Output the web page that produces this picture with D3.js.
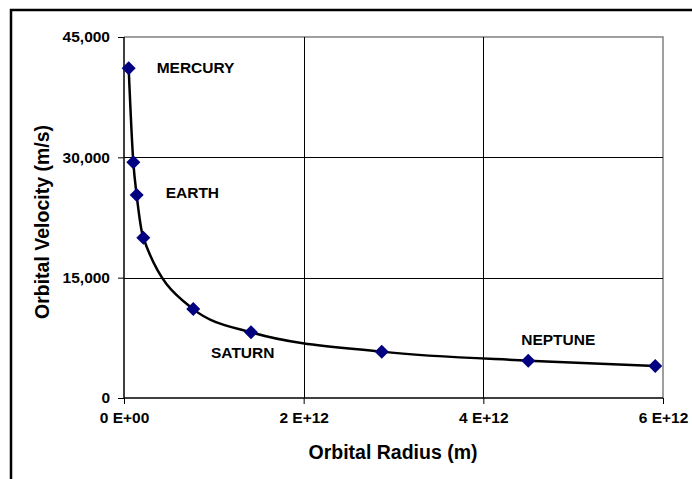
<!DOCTYPE html>
<html>
<head>
<meta charset="utf-8">
<script src="https://cdn.jsdelivr.net/npm/d3@7"></script>
<style>
body { margin: 0; background: #fff; }
text { font-family: "Liberation Sans", Arial, sans-serif; font-weight: bold; fill: #000; }
</style>
</head>
<body>
<script>
// orbital radius (m) and velocity (m/s)
var planets = ["Mercury", "Venus", "Earth", "Mars", "Jupiter", "Saturn", "Uranus", "Neptune", "Pluto"];
var radius = [5.2e10, 1.035e11, 1.41e11, 2.15e11, 7.71e11, 1.414e12, 2.869e12, 4.50e12, 5.914e12];
var velocity = [41100, 29400, 25300, 19980, 11080, 8190, 5780, 4650, 3990];

var labelNames = ["MERCURY", "EARTH", "SATURN", "NEPTUNE"];
var xTicks = [0, 2e12, 4e12, 6e12];
var xTickLabels = ["0 E+00", "2 E+12", "4 E+12", "6 E+12"];
var yTicks = [0, 15000, 30000, 45000];

var W = 692, H = 479;
var plotL = 124, plotR = 663, plotT = 37, plotB = 398;

var svg = d3.select("body").append("svg")
    .attr("width", W).attr("height", H);

// outer chart border (only top and left are visible in the frame)
svg.append("path")
    .attr("d", "M11," + H + "V10H" + W)
    .attr("fill", "none").attr("stroke", "#000").attr("stroke-width", 2.5);

var x = d3.scaleLinear().domain([0, 6e12]).range([plotL, plotR]);
var y = d3.scaleLinear().domain([0, 45000]).range([plotB, plotT]);

// plot frame, grey on top/right
svg.append("path")
    .attr("d", "M" + plotL + "," + plotT + "H" + plotR + "V" + plotB)
    .attr("fill", "none").attr("stroke", "#808080").attr("stroke-width", 1.5);

// gridlines
svg.append("g").selectAll("line").data(yTicks.slice(1, 3)).enter().append("line")
    .attr("x1", plotL).attr("x2", plotR)
    .attr("y1", function(d){ return Math.round(y(d)) + 0.5; })
    .attr("y2", function(d){ return Math.round(y(d)) + 0.5; })
    .attr("stroke", "#000").attr("stroke-width", 1);
svg.append("g").selectAll("line").data(xTicks.slice(1, 3)).enter().append("line")
    .attr("y1", plotT).attr("y2", plotB)
    .attr("x1", function(d){ return Math.round(x(d)) + 0.5; })
    .attr("x2", function(d){ return Math.round(x(d)) + 0.5; })
    .attr("stroke", "#000").attr("stroke-width", 1);

// axes
var xAxis = svg.append("g")
    .attr("transform", "translate(0," + plotB + ")")
    .call(d3.axisBottom(x).tickValues(xTicks).tickSize(6).tickPadding(8)
        .tickFormat(function(d, i){ return xTickLabels[i]; }));
var yAxis = svg.append("g")
    .attr("transform", "translate(" + plotL + ",0)")
    .call(d3.axisLeft(y).tickValues(yTicks).tickSize(6).tickPadding(8)
        .tickFormat(d3.format(",")));

[xAxis, yAxis].forEach(function(a){
  a.select(".domain").attr("stroke", "#000").attr("stroke-width", 1.5);
  a.selectAll(".tick line").attr("stroke", "#000");
  a.selectAll("text").style("font-size", "15.5px")
    .style("font-family", "'Liberation Sans', Arial, sans-serif")
    .style("font-weight", "bold").attr("fill", "#000");
});
xAxis.select(".domain").attr("d", "M" + plotL + ",0H" + plotR);
yAxis.select(".domain").attr("d", "M0," + plotB + "V" + plotT);

// axis titles
svg.append("text").attr("x", 393).attr("y", 459)
    .attr("text-anchor", "middle").style("font-size", "19.5px")
    .text("Orbital Radius (m)");
svg.append("text")
    .attr("transform", "translate(49,222) rotate(-90)")
    .attr("text-anchor", "middle").style("font-size", "19.5px")
    .text("Orbital Velocity (m/s)");

// the smoothed curve
var pts = radius.map(function(r, i){ return [r, velocity[i]]; });
var line = d3.line()
    .x(function(d){ return x(d[0]); })
    .y(function(d){ return y(d[1]); })
    .curve(d3.curveMonotoneX);
svg.append("path").datum(pts)
    .attr("d", line)
    .attr("fill", "none").attr("stroke", "#000").attr("stroke-width", 2.5);

// diamond markers
svg.append("g").selectAll("path").data(pts).enter().append("path")
    .attr("d", "M0,-7L7,0L0,7L-7,0Z")
    .attr("transform", function(d){ return "translate(" + x(d[0]) + "," + y(d[1]) + ")"; })
    .attr("fill", "#000080");

// planet labels
var labelIdx = [0, 2, 5, 7];
var labelDx = [28, 29, -40, -7];
var labelDy = [5, 3, 26, -16];
svg.append("g").selectAll("text").data(labelIdx).enter().append("text")
    .attr("x", function(d, i){ return x(radius[d]) + labelDx[i]; })
    .attr("y", function(d, i){ return y(velocity[d]) + labelDy[i]; })
    .style("font-size", "15.5px")
    .text(function(d, i){ return labelNames[i]; });
</script>
</body>
</html>
